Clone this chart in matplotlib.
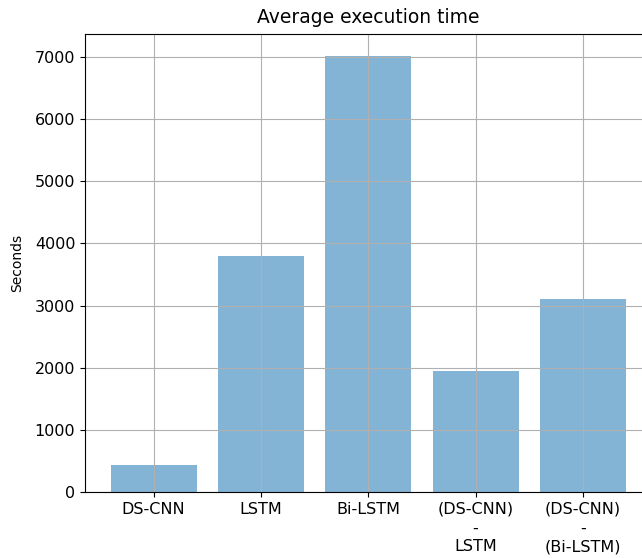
import matplotlib
matplotlib.use("Agg")
import matplotlib.pyplot as plt
import numpy as np

models = ["DS-CNN", "LSTM", "Bi-LSTM", "(DS-CNN)\n-\nLSTM", "(DS-CNN)\n-\n(Bi-LSTM)"]
avg_seconds = [432, 3800, 7020, 1950, 3105]

fig = plt.figure(figsize=(6.42, 5.58), dpi=100)
ax = fig.add_axes([85 / 642, 66 / 558, 566.6 / 642, 458 / 558])

pos = np.arange(len(models))
ax.bar(pos, avg_seconds, align="center", alpha=0.55)
ax.set_xticks(pos)
ax.set_xticklabels(models, linespacing=1.32)
ax.tick_params(labelsize=11.5)
ax.set_ylabel("Seconds", fontsize=10, labelpad=7.5)
ax.set_title("Average execution time", fontsize=13.5, pad=8)
ax.grid(True)

fig.savefig("out.png", dpi=100)
